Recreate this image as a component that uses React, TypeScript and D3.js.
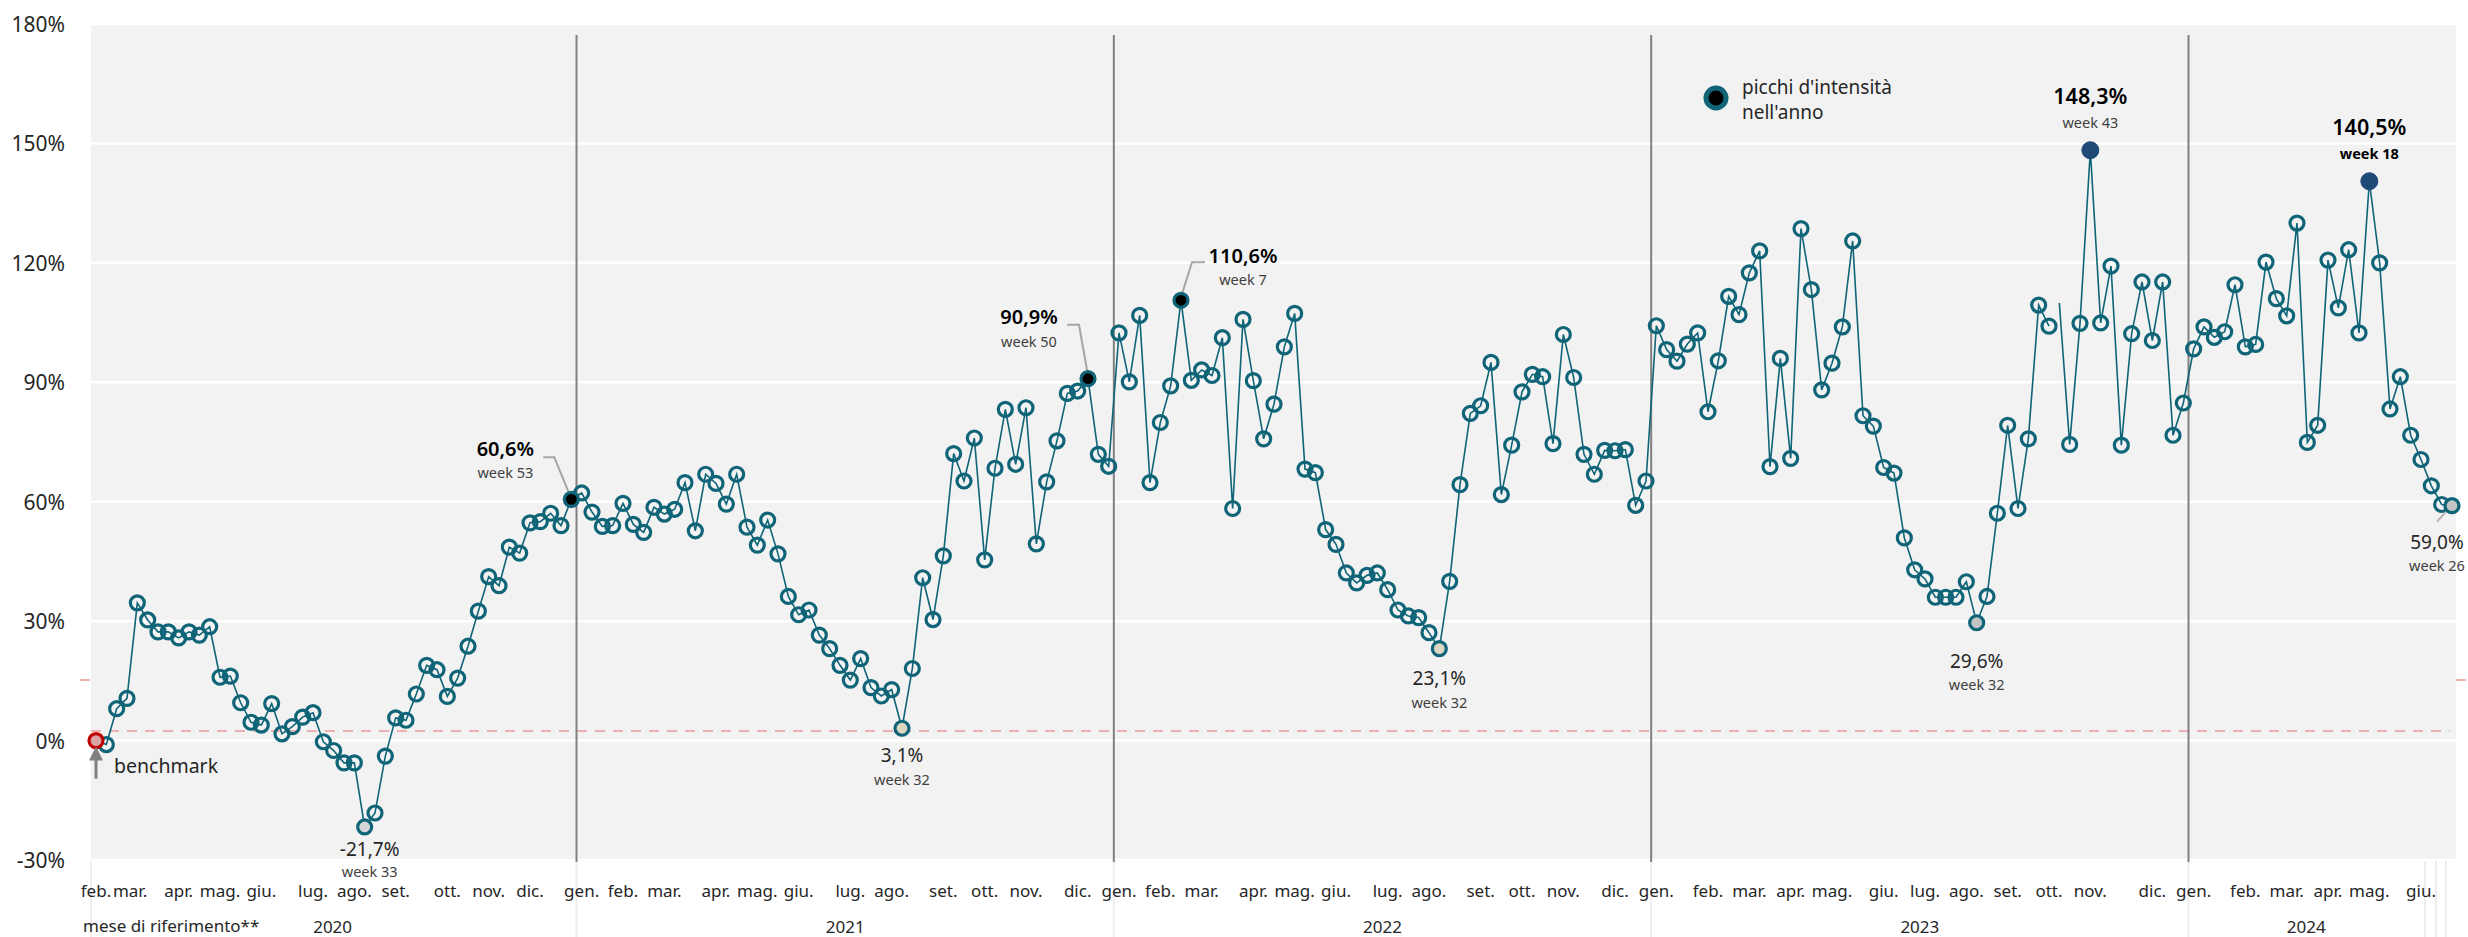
import React from "react";
import * as d3 from "d3";

// ---------- DATA ----------
const values: number[] = [
  // 2020 (week 7 .. week 53)
  0.0, -1.0, 8.0, 10.6, 34.6, 30.3, 27.3, 27.3, 25.8, 27.3, 26.5, 28.6, 15.9, 16.2, 9.5, 4.6,
  3.9, 9.3, 1.7, 3.5, 5.9, 7.0, -0.3, -2.5, -5.6, -5.6, -21.7, -18.2, -3.9, 5.7, 5.1, 11.7,
  18.9, 17.8, 11.1, 15.7, 23.7, 32.5, 41.2, 38.9, 48.6, 47.1, 54.7, 55.0, 57.1, 54.0, 60.6,
  // 2021
  62.2, 57.4, 53.8, 54.0, 59.6, 54.3, 52.3, 58.6, 56.9, 58.1, 64.8, 52.7, 66.9, 64.6, 59.4, 66.9,
  53.6, 49.1, 55.4, 46.9, 36.2, 31.6, 32.8, 26.5, 23.1, 18.9, 15.2, 20.6, 13.3, 11.2, 12.8, 3.1,
  18.1, 40.9, 30.4, 46.4, 72.1, 65.2, 76.0, 45.4, 68.4, 83.2, 69.4, 83.6, 49.4, 65.0, 75.3, 87.2,
  87.8, 90.9, 71.9, 68.9,
  // 2022
  102.4, 90.1, 106.8, 64.8, 79.9, 89.1, 110.6, 90.5, 93.1, 91.7, 101.2, 58.3, 105.8, 90.4, 75.8, 84.5,
  98.9, 107.3, 68.2, 67.3, 53.0, 49.3, 42.1, 39.6, 41.5, 42.1, 37.9, 32.8, 31.3, 30.9, 27.1, 23.1,
  40.0, 64.3, 82.2, 84.1, 95.0, 61.8, 74.2, 87.6, 92.0, 91.4, 74.6, 102.0, 91.2, 71.9, 66.9, 72.9,
  72.8, 73.1, 59.1, 65.2,
  // 2023
  104.2, 98.2, 95.3, 99.6, 102.4, 82.6, 95.4, 111.6, 107.0, 117.5, 123.0, 68.8, 96.0, 70.9, 128.6, 113.3,
  88.1, 94.8, 103.9, 125.5, 81.6, 79.0, 68.6, 67.2, 50.9, 42.9, 40.6, 36.0, 36.0, 36.0, 39.9, 29.6,
  36.2, 57.1, 79.2, 58.3, 75.8, 109.4, 104.1, 109.9, 74.4, 104.8, 148.3, 104.9, 119.2, 74.2, 102.2, 115.2,
  100.5, 115.2, 76.7, 84.8,
  // 2024 (week 1 .. week 26)
  98.4, 103.9, 101.3, 102.7, 114.5, 98.9, 99.5, 120.2, 111.0, 106.7, 130.0, 74.9, 79.2, 120.7, 108.7, 123.3,
  102.4, 140.5, 120.0, 83.3, 91.4, 76.7, 70.6, 64.0, 59.3, 59.0,
];

const yTicks = [-30, 0, 30, 60, 90, 120, 150, 180];
const yTickLabels = ["-30%", "0%", "30%", "60%", "90%", "120%", "150%", "180%"];

const monthLabels = [
  "feb.", "mar.", "apr.", "mag.", "giu.", "lug.", "ago.", "set.", "ott.", "nov.", "dic.",
  "gen.", "feb.", "mar.", "apr.", "mag.", "giu.", "lug.", "ago.", "set.", "ott.", "nov.", "dic.",
  "gen.", "feb.", "mar.", "apr.", "mag.", "giu.", "lug.", "ago.", "set.", "ott.", "nov.", "dic.",
  "gen.", "feb.", "mar.", "apr.", "mag.", "giu.", "lug.", "ago.", "set.", "ott.", "nov.", "dic.",
  "gen.", "feb.", "mar.", "apr.", "mag.", "giu.",
];
const monthAt = [
  0, 3.3, 8, 12, 16, 21, 25, 29, 34, 38, 42,
  47, 51, 55, 60, 64, 68, 73, 77, 82, 86, 90, 95,
  99, 103, 107, 112, 116, 120, 125, 129, 134, 138, 142, 147,
  151, 156, 160, 164, 168, 173, 177, 181, 185, 189, 193, 199,
  203, 208, 212, 216, 220, 225,
];
const yearLabels = ["2020", "2021", "2022", "2023", "2024"];
const yearAt = [22.9, 72.5, 124.5, 176.5, 213.9];
const yearSeparators = [46.5, 98.5, 150.5, 202.5];

const benchmarkLevel = 2.4;
const hiddenLevel = 15.2;

const peakIdx = [46, 96, 105, 193, 220];
const peakText = ["60,6%", "90,9%", "110,6%", "148,3%", "140,5%"];
const peakWeek = ["week 53", "week 50", "week 7", "week 43", "week 18"];
const lowIdx = [26, 78, 130, 182];
const lowText = ["-21,7%", "3,1%", "23,1%", "29,6%"];
const lowWeek = ["week 33", "week 32", "week 32", "week 32"];
const lastText = "59,0%";
const lastWeek = "week 26";
const lineBreakAt = [190];
const noMarkerAt = [190];

// ---------- STYLE ----------
const W = 2468;
const H = 937;
const FONT = "'Segoe UI', 'Noto Sans', sans-serif";
const TEAL = "#0f6477";
const NAVY = "#1f4a78";
const PLOT = { left: 91, right: 2456, top: 24, bottom: 860 };
const R = 7;
const SW = 3.2;

export default function App() {
  const x = d3.scaleLinear().domain([0, values.length - 1]).range([96, 2452]);
  const y = d3.scaleLinear().domain([-30, 180]).range([PLOT.bottom, PLOT.top]);

  const pts = values.map((v, i) => ({ i, v }));
  const segments: { i: number; v: number }[][] = [];
  let start = 0;
  [...lineBreakAt, values.length].forEach((b) => {
    segments.push(pts.slice(start, b));
    start = b;
  });
  const line = d3
    .line<{ i: number; v: number }>()
    .x((d) => x(d.i))
    .y((d) => y(d.v));

  const lowFill = ["#d6d6d6", "#dcd7c2", "#dcd7c2", "#c4c4c4"];
  const lowDy = [22, 27, 29.5, 38];
  const lowDx = [5, 0, 0, 0];
  const lowWeekDy = [22, 24, 24, 23];

  const special = new Set<number>([0, ...peakIdx, ...lowIdx, values.length - 1, ...noMarkerAt]);

  return (
    <svg
      width={W}
      height={H}
      style={{ position: "absolute", left: 0, top: 0, background: "#ffffff" }}
      fontFamily={FONT}
    >
      {/* hidden reference line visible only outside the plot */}
      <line
        x1={80}
        x2={W}
        y1={y(hiddenLevel)}
        y2={y(hiddenLevel)}
        stroke="#eeb3b3"
        strokeWidth={2}
        strokeDasharray="10 8"
      />
      <rect
        x={PLOT.left}
        y={PLOT.top}
        width={PLOT.right - PLOT.left}
        height={PLOT.bottom - PLOT.top}
        fill="#f2f2f2"
      />
      {/* faint lines in axis area */}
      {[PLOT.left, ...yearSeparators.map((s) => x(s)), 2425, 2436, 2446].map((xx, k) => (
        <line key={"f" + k} x1={xx} x2={xx} y1={PLOT.bottom} y2={H} stroke="#ededed" strokeWidth={2} />
      ))}
      {/* gridlines */}
      {yTicks.map((t) => (
        <line key={"g" + t} x1={PLOT.left} x2={PLOT.right} y1={y(t)} y2={y(t)} stroke="#ffffff" strokeWidth={2.5} />
      ))}
      {/* y labels */}
      {yTicks.map((t, k) => (
        <text
          key={"yl" + t}
          x={65}
          y={y(t)}
          textAnchor="end"
          dominantBaseline="central"
          fontSize={21}
          fill="#262626"
        >
          {yTickLabels[k]}
        </text>
      ))}
      {/* benchmark dashed line */}
      <line
        x1={PLOT.left}
        x2={PLOT.right - 6}
        y1={y(benchmarkLevel)}
        y2={y(benchmarkLevel)}
        stroke="#eeb0b0"
        strokeWidth={2}
        strokeDasharray="10 8"
      />
      {/* year separators */}
      {yearSeparators.map((s) => (
        <line key={"s" + s} x1={x(s)} x2={x(s)} y1={35} y2={862} stroke="#808080" strokeWidth={2} />
      ))}
      {/* data line */}
      {segments.map((seg, k) => (
        <path key={"seg" + k} d={line(seg) || ""} fill="none" stroke={TEAL} strokeWidth={1.6} />
      ))}
      {/* regular markers */}
      {pts
        .filter((d) => !special.has(d.i))
        .map((d) => (
          <circle key={"m" + d.i} cx={x(d.i)} cy={y(d.v)} r={R} fill="none" stroke={TEAL} strokeWidth={SW} />
        ))}
      {/* benchmark point */}
      <circle cx={x(0)} cy={y(values[0])} r={R} fill="#dca3a3" stroke="#c00000" strokeWidth={SW} />
      <line x1={x(0)} x2={x(0)} y1={y(values[0]) + 38} y2={y(values[0]) + 18} stroke="#808080" strokeWidth={3} />
      <path
        d={`M${x(0)},${y(values[0]) + 6} L${x(0) - 7},${y(values[0]) + 20} L${x(0) + 7},${y(values[0]) + 20} Z`}
        fill="#808080"
      />
      <text x={x(0) + 18} y={y(values[0]) + 25} dominantBaseline="central" fontSize={19.5} fill="#262626">
        benchmark
      </text>
      {/* lows */}
      {lowIdx.map((i, k) => {
        const px = x(i);
        const py = y(values[i]);
        return (
          <g key={"low" + i}>
            <circle cx={px} cy={py} r={R} fill={lowFill[k]} stroke={TEAL} strokeWidth={SW} />
            <text x={px + lowDx[k]} y={py + lowDy[k]} textAnchor="middle" dominantBaseline="central" fontSize={19} fill="#262626">
              {lowText[k]}
            </text>
            <text x={px + lowDx[k]} y={py + lowDy[k] + lowWeekDy[k]} textAnchor="middle" dominantBaseline="central" fontSize={14.5} fill="#404040">
              {lowWeek[k]}
            </text>
          </g>
        );
      })}
      {/* last point */}
      {(() => {
        const i = values.length - 1;
        const px = x(i);
        const py = y(values[i]);
        return (
          <g>
            <line x1={px - 15} y1={py + 16} x2={px - 4} y2={py + 4} stroke="#b3b3b3" strokeWidth={2} />
            <circle cx={px} cy={py} r={R} fill="#c4c4c4" stroke={TEAL} strokeWidth={SW} />
            <text x={px - 15} y={py + 36} textAnchor="middle" dominantBaseline="central" fontSize={19} fill="#262626">
              {lastText}
            </text>
            <text x={px - 15} y={py + 59} textAnchor="middle" dominantBaseline="central" fontSize={14.5} fill="#404040">
              {lastWeek}
            </text>
          </g>
        );
      })()}
      {/* peaks 2020-2022 with leaders */}
      {[0, 1, 2].map((k) => {
        const i = peakIdx[k];
        const px = x(i);
        const py = y(values[i]);
        const cfg = [
          { tx: -66, ty: -51, lead: [[-28, -42], [-17, -42], [-1, -3]] },
          { tx: -59, ty: -62, lead: [[-21, -54], [-9, -54], [0, -3]] },
          { tx: 62, ty: -45, lead: [[0, -3], [11, -38], [24, -38]] },
        ][k];
        const d = "M" + cfg.lead.map((p) => `${px + p[0]},${py + p[1]}`).join(" L");
        return (
          <g key={"pk" + i}>
            <path d={d} fill="none" stroke="#a6a6a6" strokeWidth={2} />
            <circle cx={px} cy={py} r={R} fill="#000000" stroke={TEAL} strokeWidth={SW} />
            <text x={px + cfg.tx} y={py + cfg.ty} textAnchor="middle" dominantBaseline="central" fontSize={20} fontWeight={600} fill="#000">
              {peakText[k]}
            </text>
            <text x={px + cfg.tx} y={py + cfg.ty + 24} textAnchor="middle" dominantBaseline="central" fontSize={14.5} fill="#404040">
              {peakWeek[k]}
            </text>
          </g>
        );
      })}
      {/* peaks 2023-2024 */}
      {[3, 4].map((k) => {
        const i = peakIdx[k];
        const px = x(i);
        const py = y(values[i]);
        return (
          <g key={"pk" + i}>
            <circle cx={px} cy={py} r={8.5} fill={NAVY} stroke={NAVY} strokeWidth={1} />
            <text x={px} y={py - 55} textAnchor="middle" dominantBaseline="central" fontSize={21.5} fontWeight={600} fill="#000">
              {peakText[k]}
            </text>
            <text
              x={px}
              y={py - 28}
              textAnchor="middle"
              dominantBaseline="central"
              fontSize={14.5}
              fontWeight={k === 4 ? 700 : 400}
              fill={k === 4 ? "#000" : "#404040"}
            >
              {peakWeek[k]}
            </text>
          </g>
        );
      })}
      {/* legend */}
      <circle cx={1716} cy={98} r={10} fill="#000" stroke={TEAL} strokeWidth={5} />
      <text x={1742} y={87} dominantBaseline="central" fontSize={19} fill="#262626">
        picchi d'intensità
      </text>
      <text x={1742} y={112} dominantBaseline="central" fontSize={19} fill="#262626">
        nell'anno
      </text>
      {/* month labels */}
      {monthLabels.map((m, k) => (
        <text key={"mo" + k} x={x(monthAt[k])} y={890} textAnchor="middle" dominantBaseline="central" fontSize={17} fill="#262626">
          {m}
        </text>
      ))}
      {yearLabels.map((yl, k) => (
        <text key={"yr" + k} x={x(yearAt[k])} y={926} textAnchor="middle" dominantBaseline="central" fontSize={17} fill="#262626">
          {yl}
        </text>
      ))}
      <text x={83} y={925} dominantBaseline="central" fontSize={17} fill="#262626">
        mese di riferimento**
      </text>
    </svg>
  );
}
